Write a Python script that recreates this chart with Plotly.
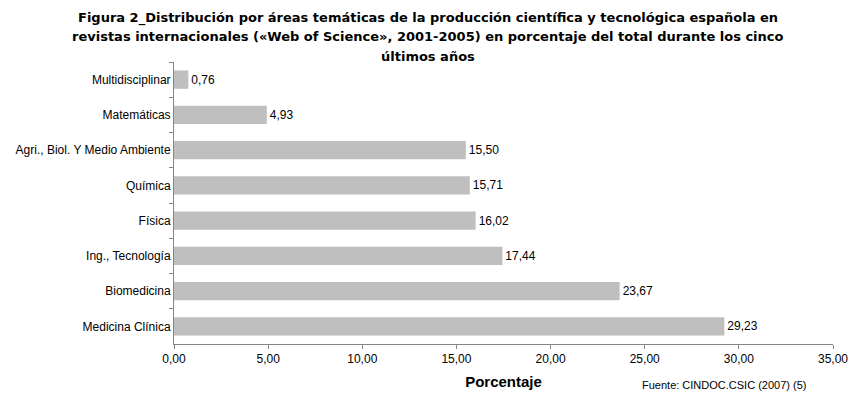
import plotly.graph_objects as go

categories = ["Multidisciplinar", "Matemáticas", "Agri., Biol. Y Medio Ambiente", "Química",
              "Física", "Ing., Tecnología", "Biomedicina", "Medicina Clínica"]
values = [0.76, 4.93, 15.50, 15.71, 16.02, 17.44, 23.67, 29.23]
x_ticks = [0, 5, 10, 15, 20, 25, 30, 35]
title_lines = [
    "Figura 2_Distribución por áreas temáticas de la producción científica y tecnológica española en",
    "revistas internacionales («Web of Science», 2001-2005) en porcentaje del total durante los cinco",
    "últimos años",
]
source_text = "Fuente: CINDOC.CSIC (2007) (5)"

FONT = "Liberation Sans, Arial, sans-serif"
TITLE_FONT = "DejaVu Sans, Liberation Sans, sans-serif"

# page body has an 8px margin; figure sized so it fills the window exactly
OFF = 8
W, H = 857 - OFF, 399 - OFF
L = 174 - OFF
R = 857 - 833
T = 62 - OFF
B = H - (344 - OFF)
plot_w = W - L - R
plot_h = H - T - B


def px_x(xpx):
    return (xpx - OFF - L) / plot_w


def px_y(ypx):
    return (H - B - (ypx - OFF)) / plot_h


fig = go.Figure(go.Bar(
    x=values, y=categories, orientation="h",
    marker=dict(color="#BFBFBF", line=dict(width=0)),
    width=0.52,
    text=values, texttemplate="%{x:.2f}", textposition="outside",
    textfont=dict(family=FONT, size=12, color="#000000"),
    cliponaxis=False,
))

annotations = []
for i, line in enumerate(title_lines):
    annotations.append(dict(
        text="<b>" + line + "</b>", xref="paper", yref="paper",
        x=px_x(428), y=px_y(18 + 19 * i),
        xanchor="center", yanchor="middle", showarrow=False,
        font=dict(family=TITLE_FONT, size=13, color="#000000"),
    ))
annotations.append(dict(
    text=source_text, xref="paper", yref="paper",
    x=px_x(808), y=px_y(385),
    xanchor="right", yanchor="middle", showarrow=False,
    font=dict(family=FONT, size=11, color="#000000"),
))

fig.update_layout(
    width=W, height=H,
    separators=",.",
    paper_bgcolor="white", plot_bgcolor="white",
    margin=dict(l=L, r=R, t=T, b=B, autoexpand=False),
    showlegend=False,
    xaxis=dict(
        range=[0, 35], tickvals=x_ticks, tickformat=".2f", automargin=False,
        showgrid=False, zeroline=False,
        showline=True, linecolor="#868686", linewidth=1,
        ticks="outside", ticklen=4, tickcolor="#868686",
        tickfont=dict(family=FONT, size=12, color="#000000"),
        title=dict(text="<b>Porcentaje</b>", font=dict(family=FONT, size=15, color="#000000"), standoff=11),
    ),
    yaxis=dict(
        autorange="reversed", type="category", automargin=False,
        showgrid=False, zeroline=False,
        showline=True, linecolor="#868686", linewidth=1,
        ticks="outside", ticklen=4, tickcolor="#868686", tickson="boundaries",
        tickfont=dict(family=FONT, size=12, color="#000000"),
    ),
    annotations=annotations,
)

fig.write_html("out.html")
